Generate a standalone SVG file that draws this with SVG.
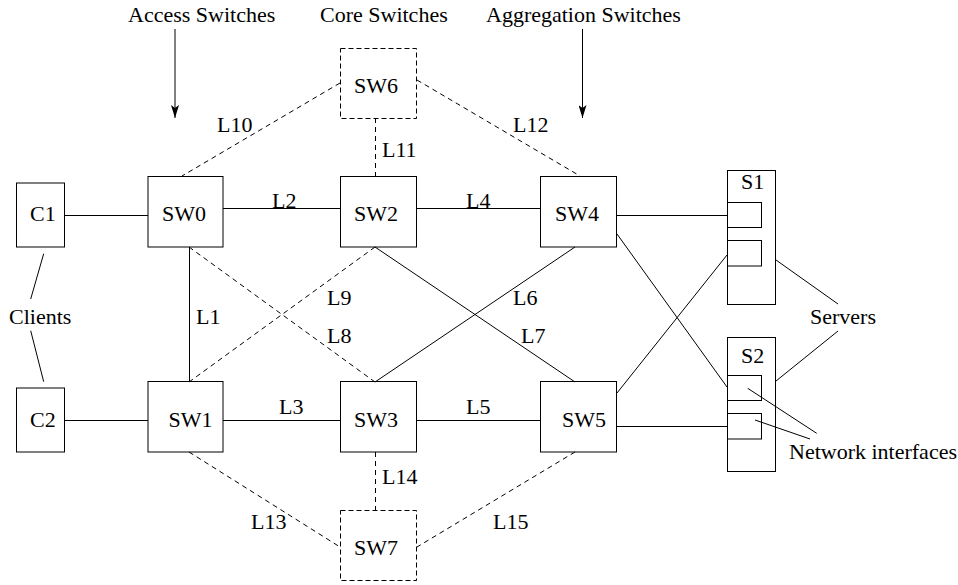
<svg xmlns="http://www.w3.org/2000/svg" width="958" height="585" viewBox="0 0 958 585">
<style>
text{font-family:'Liberation Serif','Tinos','Times New Roman','Nimbus Roman','DejaVu Serif',serif;font-size:22px;fill:#000}
.box{fill:none;stroke:#000;stroke-width:1}
.dbox{fill:none;stroke:#000;stroke-width:1;stroke-dasharray:5,3}
.ln{fill:none;stroke:#000;stroke-width:1}
.dl{fill:none;stroke:#000;stroke-width:1;stroke-dasharray:5,4}
</style>
<defs>
<marker id="ah" markerWidth="14" markerHeight="8" refX="13" refY="4" orient="auto" markerUnits="userSpaceOnUse">
<path d="M0,0 L13,4 L0,8 L3,4 Z" fill="#000"/>
</marker>
</defs>
<rect width="958" height="585" fill="#fff"/>

<g id="connectors">
<line class="ln" x1="64.5" y1="215.5" x2="148" y2="215.5"/>
<line class="ln" x1="223" y1="208.5" x2="340" y2="208.5"/>
<line class="ln" x1="417" y1="208.5" x2="540" y2="208.5"/>
<line class="ln" x1="617" y1="215.5" x2="727" y2="215.5"/>
<line class="ln" x1="64.5" y1="420.5" x2="148" y2="420.5"/>
<line class="ln" x1="223" y1="420.5" x2="340" y2="420.5"/>
<line class="ln" x1="417" y1="420.5" x2="540" y2="420.5"/>
<line class="ln" x1="617" y1="426.5" x2="727" y2="426.5"/>
<line class="ln" x1="189.5" y1="247" x2="189.5" y2="382"/>
<line class="dl" x1="189" y1="247" x2="375" y2="382"/>
<line class="dl" x1="375" y1="247" x2="189" y2="382"/>
<line class="ln" x1="375" y1="247" x2="575" y2="382"/>
<line class="ln" x1="575" y1="247" x2="375" y2="382"/>
<line class="ln" x1="617" y1="234" x2="727" y2="387"/>
<line class="ln" x1="617" y1="393" x2="727" y2="255"/>
<line class="dl" x1="340" y1="83" x2="182" y2="176"/>
<line class="dl" x1="375.5" y1="118" x2="375.5" y2="176"/>
<line class="dl" x1="417" y1="80" x2="580" y2="176"/>
<line class="dl" x1="375.5" y1="452" x2="375.5" y2="510"/>
<line class="dl" x1="189" y1="452" x2="340" y2="547"/>
<line class="dl" x1="575" y1="452" x2="417" y2="547"/>
<line class="ln" x1="175" y1="29" x2="175" y2="118" marker-end="url(#ah)"/>
<line class="ln" x1="582.5" y1="29" x2="582.5" y2="118" marker-end="url(#ah)"/>
<line class="ln" x1="43.7" y1="253.7" x2="30.7" y2="299"/>
<line class="ln" x1="30.7" y1="330.7" x2="43.7" y2="381.7"/>
<line class="ln" x1="776" y1="260" x2="838" y2="304"/>
<line class="ln" x1="838" y1="331" x2="776" y2="381"/>
<line class="ln" x1="747.7" y1="388.3" x2="816.7" y2="433.3"/>
<line class="ln" x1="755" y1="420" x2="810" y2="439"/>
</g>

<g id="C1"><rect class="box" x="16.5" y="183" width="48" height="64"/><text x="30" y="221">C1</text></g>
<g id="C2"><rect class="box" x="16.5" y="388" width="48" height="64"/><text x="30" y="427">C2</text></g>
<g id="SW0"><rect class="box" x="148" y="176.5" width="75" height="70.5"/><text x="162" y="221">SW0</text></g>
<g id="SW1"><rect class="box" x="148" y="381.5" width="75" height="70.5"/><text x="168.5" y="427">SW1</text></g>
<g id="SW2"><rect class="box" x="340.5" y="176.5" width="76" height="70.5"/><text x="354" y="221">SW2</text></g>
<g id="SW3"><rect class="box" x="340.5" y="381.5" width="76" height="70.5"/><text x="354" y="427">SW3</text></g>
<g id="SW4"><rect class="box" x="540.5" y="176.5" width="76" height="70.5"/><text x="555" y="221">SW4</text></g>
<g id="SW5"><rect class="box" x="540.5" y="381.5" width="76" height="70.5"/><text x="562" y="427">SW5</text></g>
<g id="SW6"><rect class="dbox" x="340.5" y="48.5" width="76" height="70"/><text x="354" y="93">SW6</text></g>
<g id="SW7"><rect class="dbox" x="340.5" y="510.5" width="76" height="70"/><text x="354" y="555">SW7</text></g>
<g id="S1">
<rect class="box" x="727.5" y="170.5" width="48" height="134"/>
<rect class="box" x="727.5" y="202.5" width="34" height="25"/>
<rect class="box" x="727.5" y="240.5" width="34" height="25.5"/>
<text x="741" y="189">S1</text>
</g>
<g id="S2">
<rect class="box" x="727.5" y="337.5" width="48" height="134"/>
<rect class="box" x="727.5" y="375.5" width="34" height="25"/>
<rect class="box" x="727.5" y="413.5" width="34" height="25.5"/>
<text x="741" y="363">S2</text>
</g>

<g id="labels">
<text x="128" y="22">Access Switches</text>
<text x="320" y="22">Core Switches</text>
<text x="486" y="22">Aggregation Switches</text>
<text x="9" y="324">Clients</text>
<text x="810" y="324">Servers</text>
<text x="789" y="459">Network interfaces</text>
<text x="217" y="132">L10</text>
<text x="382" y="157">L11</text>
<text x="513" y="132">L12</text>
<text x="272" y="208">L2</text>
<text x="466" y="208">L4</text>
<text x="327" y="305">L9</text>
<text x="513" y="305">L6</text>
<text x="196" y="324">L1</text>
<text x="327" y="343">L8</text>
<text x="521" y="343">L7</text>
<text x="279" y="414">L3</text>
<text x="466" y="414">L5</text>
<text x="382" y="484">L14</text>
<text x="251" y="529">L13</text>
<text x="493" y="529">L15</text>
</g>
</svg>
